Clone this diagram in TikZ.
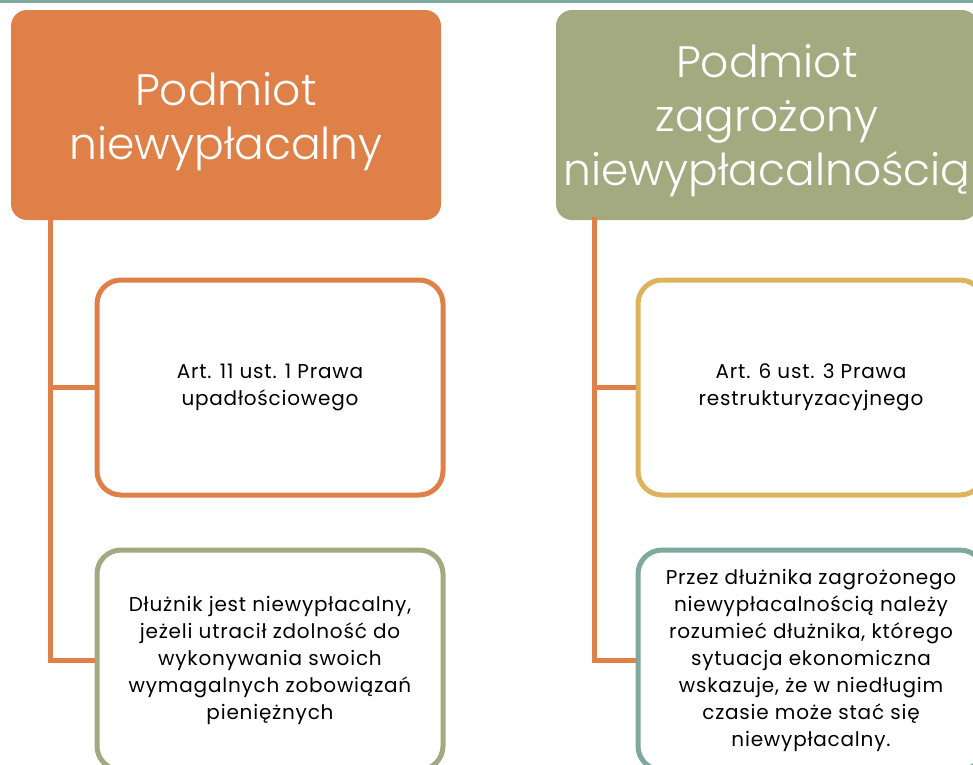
\documentclass[tikz,border=0pt]{standalone}
\usepackage{fontspec}
\setmainfont{Poppins}[LetterSpace=4]
\newfontfamily\hfont{Poppins Light}
\definecolor{cOrange}{RGB}{223,128,72}
\definecolor{cOlive}{RGB}{164,170,128}
\definecolor{cGold}{RGB}{221,180,93}
\definecolor{cTeal}{RGB}{127,168,158}
\begin{document}
\begin{tikzpicture}[x=1pt,y=-1pt,
  header/.style={rounded corners=16pt, minimum height=210pt, inner sep=0pt},
  htext/.style={text=white, align=center, font=\hfont\fontsize{44}{54}\selectfont},
  card/.style={draw, line width=5pt, rounded corners=24pt, fill=white,
    minimum width=346pt, inner sep=0pt, text=black, align=center,
    font=\fontsize{20}{27}\selectfont},
  conn/.style={draw=cOrange, line width=5pt}]
\useasboundingbox (0,0) rectangle (973,764);
\clip (0,0) rectangle (973,764);
\fill[cTeal] (0,0) rectangle (973,2.5);
% headers
\node[header, fill=cOrange, minimum width=430pt] (lh) at (226,115) {};
\node[htext] (lht) at ([yshift=-7pt]lh.center) {Podmiot\\niewypłacalny};
\node[header, fill=cOlive, minimum width=422pt] (rh) at (767,115) {};
\node[htext] (rht) at ([yshift=-6pt]rh.center) {Podmiot\\zagrożony\\niewypłacalnością};
% cards
\node[card, draw=cOrange, minimum height=215pt] (lb1) at (270,387.5)
  {Art. 11 ust. 1 Prawa\\upadłościowego};
\node[card, draw=cOlive, minimum height=220pt] (lb2) at (270,660)
  {Dłużnik  jest niewypłacalny,\\jeżeli utracił zdolność do\\wykonywania swoich\\wymagalnych zobowiązań\\pieniężnych};
\node[card, draw=cGold, minimum height=215pt] (rb1) at (811,387.5)
  {Art. 6 ust. 3 Prawa\\restrukturyzacyjnego};
\node[card, draw=cTeal, minimum height=220pt] (rb2) at (811,660)
  {Przez dłużnika zagrożonego\\niewypłacalnością należy\\rozumieć dłużnika, którego\\sytuacja ekonomiczna\\wskazuje, że w niedługim\\czasie może stać się\\niewypłacalny.};
% connectors
\coordinate (lt) at ([xshift=40pt,yshift=3pt]lh.south west);
\coordinate (rt) at ([xshift=39pt,yshift=3pt]rh.south west);
\draw[conn] (lt) |- (lb1.west);
\draw[conn] (lt) |- (lb2.west);
\draw[conn] (rt) |- (rb1.west);
\draw[conn] (rt) |- (rb2.west);
\end{tikzpicture}
\end{document}
